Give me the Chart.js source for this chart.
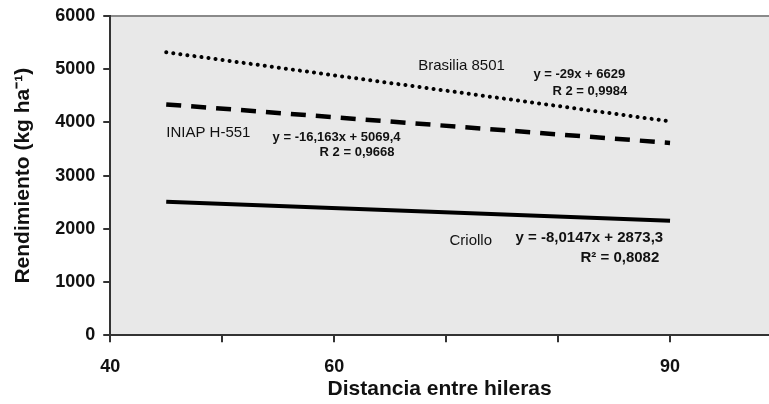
<!DOCTYPE html>
<html>
<head>
<meta charset="utf-8">
<script src="https://cdn.jsdelivr.net/npm/chart.js@4.4.0/dist/chart.umd.min.js"></script>
<style>
  html, body { margin: 0; padding: 0; background: #fff; }
  #wrap { width: 769px; height: 404px; }
</style>
</head>
<body>
<div id="wrap"><canvas id="myChart"></canvas></div>
<script>
// distancia entre hileras (cm)
var distances = [45, 90];
// rendimiento (kg/ha)
var brasilia = [5320, 4020];
var iniap = [4340, 3615];
var criollo = [2510, 2150];
var seriesNames = ['Brasilia 8501', 'INIAP H-551', 'Criollo'];
var xTickLabels = [40, 60, 90];

function toPoints(ys) {
    return distances.map(function (x, i) { return { x: x, y: ys[i] }; });
}

// text written on the plot (position in data units)
var notes = [
    { text: 'Brasilia 8501', x: 67.5, y: 5063, font: '15px "Liberation Sans", Arial' },
    { text: 'y = -29x + 6629', x: 77.8, y: 4894, font: 'bold 13px "Liberation Sans", Arial' },
    { text: 'R 2 = 0,9984', x: 79.5, y: 4575, font: 'bold 13px "Liberation Sans", Arial' },
    { text: 'INIAP H-551', x: 45.0, y: 3806, font: '15px "Liberation Sans", Arial' },
    { text: 'y = -16,163x + 5069,4', x: 54.5, y: 3713, font: 'bold 13px "Liberation Sans", Arial' },
    { text: 'R 2 = 0,9668', x: 58.7, y: 3431, font: 'bold 13px "Liberation Sans", Arial' },
    { text: 'Criollo', x: 70.3, y: 1781, font: '15px "Liberation Sans", Arial' },
    { text: 'y = -8,0147x + 2873,3', x: 76.2, y: 1838, font: 'bold 15px "Liberation Sans", Arial' },
    { text: 'R\u00b2 = 0,8082', x: 82.0, y: 1463, font: 'bold 15px "Liberation Sans", Arial' }
];

var plotBackground = {
    id: 'plotBackground',
    beforeDraw: function (chart) {
        var a = chart.chartArea, ctx = chart.ctx;
        ctx.save();
        ctx.fillStyle = '#e8e8e8';
        ctx.fillRect(a.left, a.top, a.right - a.left, a.bottom - a.top);
        ctx.strokeStyle = '#8a8a8a';
        ctx.lineWidth = 2;
        ctx.beginPath();
        ctx.moveTo(a.left, a.top);
        ctx.lineTo(a.right, a.top);
        ctx.stroke();
        ctx.restore();
    }
};

var plotNotes = {
    id: 'plotNotes',
    afterDatasetsDraw: function (chart) {
        var ctx = chart.ctx, sx = chart.scales.x, sy = chart.scales.y;
        ctx.save();
        ctx.fillStyle = '#111';
        ctx.textAlign = 'left';
        ctx.textBaseline = 'middle';
        notes.forEach(function (n) {
            ctx.font = n.font;
            ctx.fillText(n.text, sx.getPixelForValue(n.x), sy.getPixelForValue(n.y));
        });
        ctx.restore();
    }
};

var ctx = document.getElementById('myChart').getContext('2d');
var myChart = new Chart(ctx, {
    type: 'scatter',
    data: {
        datasets: [{
            label: seriesNames[0],
            data: toPoints(brasilia),
            showLine: true,
            borderColor: '#000',
            borderWidth: 4,
            borderDash: [0.1, 7],
            borderCapStyle: 'round',
            pointRadius: 0
        }, {
            label: seriesNames[1],
            data: toPoints(iniap),
            showLine: true,
            borderColor: '#000',
            borderWidth: 4.5,
            borderDash: [15, 10],
            pointRadius: 0
        }, {
            label: seriesNames[2],
            data: toPoints(criollo),
            showLine: true,
            borderColor: '#000',
            borderWidth: 4,
            pointRadius: 0
        }]
    },
    options: {
        responsive: true,
        maintainAspectRatio: false,
        animation: false,
        layout: { padding: { top: 4, right: 0, left: 11, bottom: 2 } },
        plugins: {
            legend: { display: false },
            tooltip: { enabled: false }
        },
        scales: {
            x: {
                type: 'linear',
                min: 40,
                max: 98.84,
                afterBuildTicks: function (axis) {
                    axis.ticks = [40, 50, 60, 70, 80, 90].map(function (v) { return { value: v }; });
                },
                ticks: {
                    color: '#111',
                    padding: 14,
                    maxRotation: 0,
                    font: { family: '"Liberation Sans", Arial', size: 18, weight: 'bold' },
                    callback: function (v) { return xTickLabels.indexOf(v) >= 0 ? String(v) : ''; }
                },
                grid: { drawOnChartArea: false, drawTicks: true, tickLength: 7, color: '#333', lineWidth: 2 },
                border: { display: true, color: '#333', width: 2 },
                title: {
                    display: true,
                    text: 'Distancia entre hileras',
                    color: '#111',
                    padding: { top: -15, bottom: 0 },
                    font: { family: '"Liberation Sans", Arial', size: 21, weight: 'bold' }
                }
            },
            y: {
                min: 0,
                max: 6000,
                ticks: {
                    stepSize: 1000,
                    color: '#111',
                    padding: 8,
                    font: { family: '"Liberation Sans", Arial', size: 18, weight: 'bold', lineHeight: 0.9 },
                    callback: function (v) { return String(v); }
                },
                grid: { drawOnChartArea: false, drawTicks: true, tickLength: 7, color: '#333', lineWidth: 2 },
                border: { display: true, color: '#333', width: 2 },
                title: {
                    display: true,
                    text: 'Rendimiento (kg ha\u207b\u00b9)',
                    color: '#111',
                    padding: { top: 0, bottom: 11 },
                    font: { family: '"Liberation Sans", Arial', size: 21, weight: 'bold' }
                }
            }
        }
    },
    plugins: [plotBackground, plotNotes]
});
</script>
</body>
</html>
